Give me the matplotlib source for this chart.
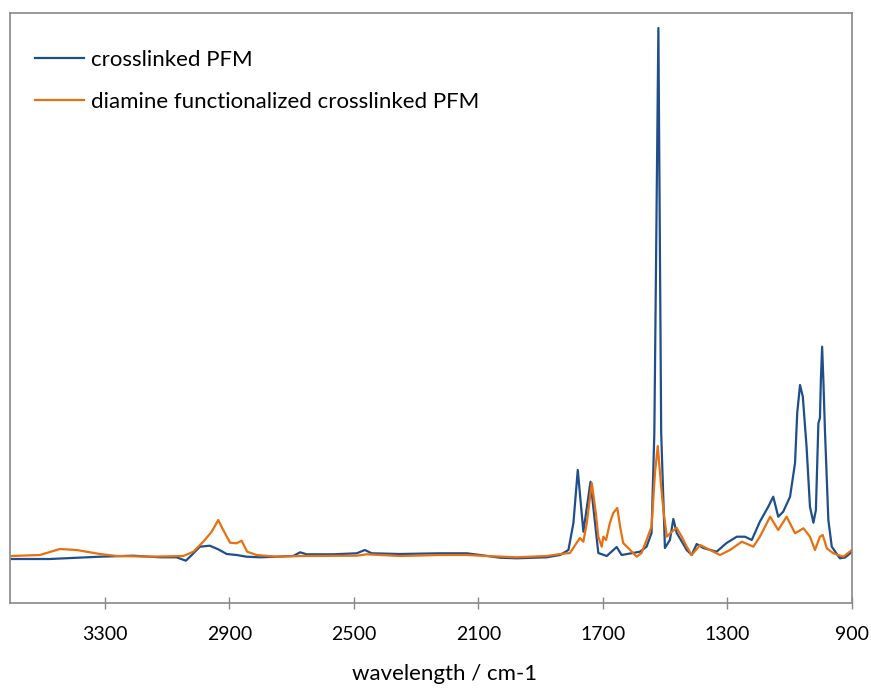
#!/usr/bin/env python

import numpy as np
import matplotlib
matplotlib.use('Agg')
import matplotlib.pyplot as plt

# ------------------------------------------------------------------------------
# Spectra (wavenumber in cm-1, absorbance in a.u.)
#
blue_wn = [3600, 3477, 3316, 3210, 3123, 3070, 3040, 3021, 2995, 2963, 2936,
           2909, 2877, 2845, 2802, 2695, 2673, 2652, 2567, 2491, 2465, 2443,
           2352, 2224, 2138, 2095, 2031, 1977, 1881, 1838, 1811, 1795, 1781,
           1763, 1740, 1715, 1688, 1656, 1640, 1581, 1560, 1544, 1535, 1522,
           1513, 1501, 1485, 1474, 1463, 1431, 1415, 1399, 1378, 1335, 1303,
           1270, 1244, 1222, 1196, 1169, 1153, 1137, 1121, 1099, 1083, 1076,
           1067, 1058, 1046, 1035, 1024, 1016, 1008, 1003, 1000, 996, 992,
           987, 976, 965, 939, 922, 900]
blue_abs = [0.01, 0.01, 0.033, 0.043, 0.027, 0.027, -0.007, 0.05, 0.133, 0.143,
            0.107, 0.06, 0.05, 0.033, 0.027, 0.04, 0.077, 0.057, 0.057, 0.067,
            0.10, 0.067, 0.06, 0.067, 0.067, 0.05, 0.023, 0.017, 0.027, 0.05,
            0.10, 0.37, 0.90, 0.283, 0.783, 0.07, 0.04, 0.13, 0.05, 0.083,
            0.133, 0.27, 1.27, 5.32, 1.27, 0.12, 0.20, 0.41, 0.27, 0.10, 0.05,
            0.16, 0.12, 0.083, 0.17, 0.233, 0.233, 0.20, 0.383, 0.533, 0.633,
            0.433, 0.483, 0.633, 0.97, 1.47, 1.75, 1.633, 1.133, 0.533, 0.373,
            0.50, 1.367, 1.42, 1.80, 2.133, 1.80, 1.30, 0.40, 0.133, 0.017,
            0.025, 0.083]

orange_wn = [3600, 3509, 3445, 3391, 3316, 3262, 3155, 3048, 3016, 2984, 2957,
             2936, 2920, 2898, 2877, 2861, 2843, 2813, 2748, 2673, 2491, 2459,
             2352, 2224, 2138, 2074, 1977, 1881, 1844, 1806, 1785, 1774, 1763,
             1752, 1736, 1723, 1715, 1704, 1699, 1690, 1678, 1667, 1654, 1645,
             1635, 1619, 1592, 1576, 1560, 1544, 1533, 1524, 1515, 1506, 1495,
             1479, 1463, 1447, 1431, 1415, 1388, 1356, 1324, 1292, 1254, 1217,
             1196, 1163, 1137, 1110, 1083, 1056, 1035, 1019, 1003, 994, 981,
             960, 928, 900]
orange_abs = [0.04, 0.05, 0.11, 0.10, 0.06, 0.04, 0.033, 0.04, 0.083, 0.183,
              0.283, 0.40, 0.30, 0.173, 0.167, 0.193, 0.083, 0.05, 0.033, 0.04,
              0.043, 0.057, 0.04, 0.05, 0.05, 0.04, 0.027, 0.04, 0.057, 0.07,
              0.17, 0.22, 0.183, 0.37, 0.77, 0.47, 0.233, 0.133, 0.233, 0.20,
              0.37, 0.47, 0.52, 0.333, 0.17, 0.12, 0.033, 0.07, 0.20, 0.333,
              0.87, 1.14, 0.80, 0.50, 0.233, 0.283, 0.32, 0.233, 0.133, 0.05,
              0.15, 0.10, 0.05, 0.10, 0.183, 0.133, 0.233, 0.433, 0.30, 0.433,
              0.267, 0.317, 0.233, 0.10, 0.233, 0.25, 0.117, 0.067, 0.033, 0.10]

labels = ['crosslinked PFM', 'diamine functionalized crosslinked PFM']
xticks = [3300, 2900, 2500, 2100, 1700, 1300, 900]

# ------------------------------------------------------------------------------
# Plot
#
plt.rcParams['font.family'] = ['Lato', 'DejaVu Sans']
fig = plt.figure(figsize=(8.71, 6.88), dpi=100)
ax = fig.add_axes([10 / 871, 85 / 688, 842 / 871, 590 / 688])

ax.plot(blue_wn, blue_abs, color='#1F4E8C', lw=1.6, label=labels[0],
        solid_joinstyle='round')
ax.plot(orange_wn, orange_abs, color='#E8700E', lw=1.6, label=labels[1],
        solid_joinstyle='round')

ax.set_xlim(3605, 900)
ax.set_ylim(-0.43, 5.47)
ax.set_xticks(xticks)
ax.set_yticks([])
ax.tick_params(axis='x', direction='inout', length=9, width=1, color='#888888',
               labelsize=14, pad=12)
for s in ax.spines.values():
    s.set_color('#888888')
    s.set_linewidth(1.2)

ax.set_xlabel('wavelength / cm-1', fontsize=16)
ax.xaxis.set_label_coords(0.516, -0.104)

ax.legend(loc='upper left', frameon=False, fontsize=16, handlelength=2.2,
          handletextpad=0.3, labelspacing=0.99, borderaxespad=0, borderpad=0,
          bbox_to_anchor=(0.03, 0.938))

fig.savefig('out.png', dpi=100)
